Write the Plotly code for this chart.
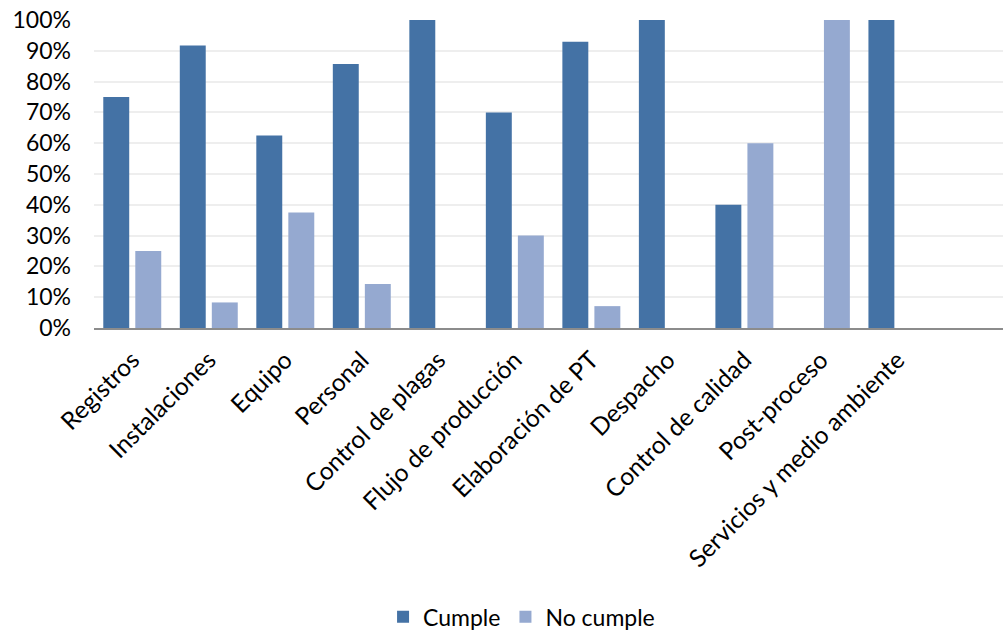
import plotly.graph_objects as go

categories = [
    "Registros", "Instalaciones", "Equipo", "Personal", "Control de plagas",
    "Flujo de producción", "Elaboración de PT", "Despacho", "Control de calidad",
    "Post-proceso", "Servicios y medio ambiente",
]
cumple = [0.75, 0.917, 0.625, 0.857, 1.00, 0.70, 0.929, 1.00, 0.40, 0.00, 1.00]
no_cumple = [0.25, 0.083, 0.375, 0.143, 0.00, 0.30, 0.071, 0.00, 0.60, 1.00, 0.00]
y_ticks = [0, 0.1, 0.2, 0.3, 0.4, 0.5, 0.6, 0.7, 0.8, 0.9, 1.0]

FONT = "Lato"

fig = go.Figure()
fig.add_trace(go.Bar(
    name="Cumple", x=categories, y=cumple,
    marker=dict(color="#4472A5", line=dict(width=0)),
))
fig.add_trace(go.Bar(
    name="No cumple", x=categories, y=no_cumple,
    marker=dict(color="#95A9D0", line=dict(width=0)),
))

fig.update_layout(
    width=1003, height=632,
    margin=dict(l=94, r=0, t=20, b=304),
    paper_bgcolor="white", plot_bgcolor="white",
    barmode="group", bargap=0.163, bargroupgap=0.19,
    font=dict(family=FONT, size=23, color="#000000"),
    showlegend=True,
    legend=dict(
        orientation="h", xref="container", yref="container",
        x=0.52, xanchor="center", y=0.024, yanchor="middle",
        font=dict(size=23), itemwidth=30, traceorder="normal",
    ),
)
fig.update_xaxes(
    type="category", range=[-0.5, 11.38],
    tickangle=-45, showgrid=False, ticks="",
    showline=True, linecolor="#8C8C8C", linewidth=2,
    tickfont=dict(size=24.5), ticklabelstandoff=6,
)
fig.update_yaxes(
    range=[0, 1], tickvals=y_ticks, tickformat=".0%",
    showgrid=True, gridcolor="#EEEEEE", gridwidth=2,
    zeroline=False, showline=False, ticks="",
    ticklabelstandoff=22, tickfont=dict(size=23),
)

fig.write_html("out.html")
